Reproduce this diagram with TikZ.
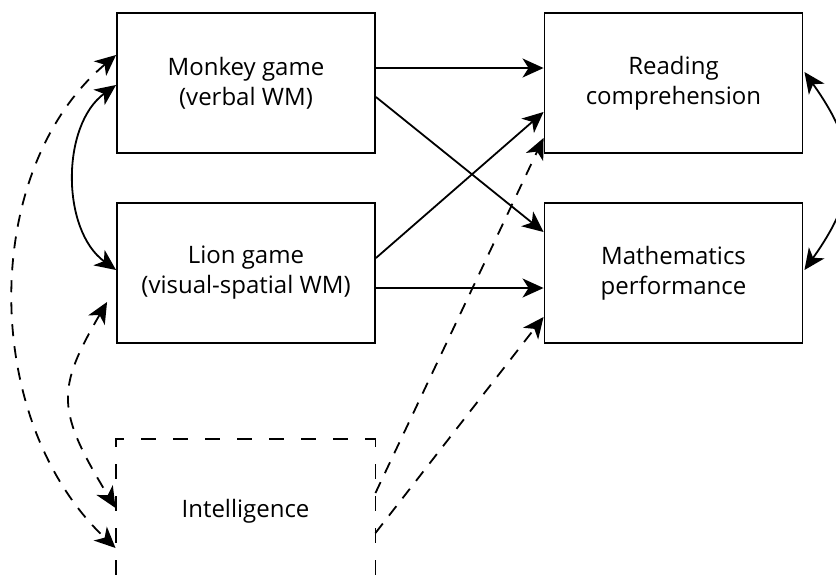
\documentclass[tikz,border=0pt]{standalone}
\usepackage{fontspec}
\setmainfont{Open Sans}
\usetikzlibrary{arrows.meta}
\begin{document}
\begin{tikzpicture}[x=1pt,y=-1pt,
  box/.style={draw,line width=1.9pt,minimum width=258pt,minimum height=140pt,align=center,font=\fontsize{24}{30}\selectfont},
  dbox/.style={box,draw=none,minimum height=143pt},
  dedge/.style={line width=1.9pt,line cap=rect,dash pattern=on 13pt off 19pt,dash phase=6pt},
  conn/.style={line width=1.8pt,-{Stealth[length=21pt,width=19pt,inset=6pt]}},
  both/.style={line width=1.8pt,{Stealth[length=21pt,width=19pt,inset=6pt]}-{Stealth[length=21pt,width=19pt,inset=6pt]}},
  dsh/.style={dash pattern=on 12pt off 10pt}]
\useasboundingbox[clip] (0,0) rectangle (836,579);
\node[box] (monkey) at (246,83) {Monkey game\\(verbal WM)};
\node[box] (reading) at (673.5,83) {Reading\\comprehension};
\node[box] (lion) at (246,273) {Lion game\\(visual-spatial WM)};
\node[box] (math) at (673.5,273) {Mathematics\\performance};
\node[dbox] (intel) at (245.5,511.5) {Intelligence};
\draw[dedge] (intel.north west) -- (intel.north east);
\draw[dedge] (intel.north west) -- (intel.south west);
\draw[dedge] (intel.north east) -- (intel.south east);
% straight paths
\draw[conn] ([yshift=15pt]monkey.east) -- ([yshift=15pt]reading.west);
\draw[conn] ([yshift=-14pt]monkey.east) -- ([yshift=41pt]math.west);
\draw[conn] ([yshift=15pt]lion.east) -- ([yshift=-29pt]reading.west);
\draw[conn] ([yshift=-15pt]lion.east) -- ([yshift=-15pt]math.west);
\draw[conn,dsh] ([yshift=18.5pt]intel.east) -- ([yshift=-55pt]reading.west);
\draw[conn,dsh] ([yshift=-21.5pt]intel.east) -- ([yshift=-44pt]math.west);
% correlations
\draw[both] ([yshift=-2pt]monkey.west) .. controls (61,125) and (61,230) .. ([yshift=3pt]lion.west);
\draw[both,dsh] ([yshift=28pt]monkey.west) .. controls (-20,170) and (-20,420) .. ([yshift=-36.5pt]intel.west);
\draw[both,dsh] ([xshift=-9pt,yshift=-29pt]lion.west) .. controls (56,390) and (56,410) .. ([yshift=3.5pt]intel.west);
\draw[both] ([xshift=1pt,yshift=11pt]reading.east) .. controls (860,150) and (860,192) .. ([xshift=1pt,yshift=3pt]math.east);
\end{tikzpicture}
\end{document}
